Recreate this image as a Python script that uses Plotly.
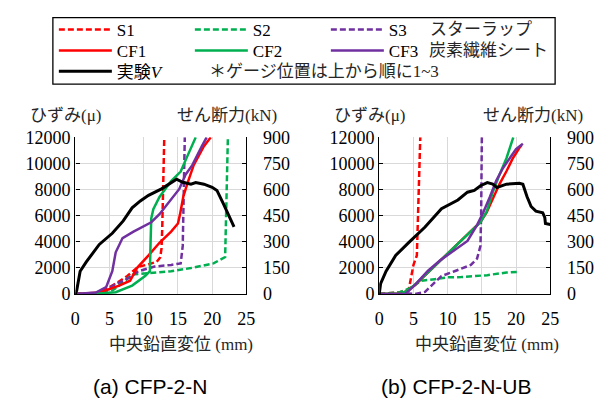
import plotly.graph_objects as go

W, H = 612, 401

# ---------------- data: (a) CFP-2-N ----------------
a_S1_x = [0, 3.0, 4.2, 5.9, 7.6, 8.5, 9.2, 10.5, 11.9, 12.4, 12.6, 12.7, 12.8, 12.9, 13.0]
a_S1_y = [0, 100, 290, 800, 1380, 1800, 2100, 2250, 2470, 2800, 3500, 5000, 7500, 10000, 12000]
a_S2_x = [0, 3.5, 5.5, 7.0, 8.3, 10.7, 14.0, 16.9, 20.2, 21.9, 22.0, 22.1, 22.2, 22.3]
a_S2_y = [0, 50, 300, 900, 1500, 1620, 1750, 1990, 2350, 2840, 5000, 8000, 10500, 12000]
a_S3_x = [0, 4.0, 5.5, 7.9, 9.2, 11.6, 14.0, 15.4, 15.7, 15.8, 15.9, 16.0]
a_S3_y = [0, 100, 650, 1260, 1750, 2110, 2230, 2350, 3690, 6110, 9500, 12000]
a_CF1_x = [0, 3.1, 4.5, 6.4, 8.0, 9.0, 10.7, 12.3, 14.0, 15.0, 15.3, 15.5, 15.8, 16.4, 17.3, 18.8, 19.8]
a_CF1_y = [0, 100, 290, 650, 1020, 1990, 2960, 3930, 4780, 5400, 6100, 6800, 7500, 8500, 9870, 11320, 12000]
a_CF2_x = [0, 3.0, 5.9, 8.3, 10.2, 10.9, 11.0, 11.1, 11.4, 12.3, 14.0, 15.4, 16.2, 17.6]
a_CF2_y = [0, 30, 145, 650, 1380, 1750, 4000, 5800, 6500, 7440, 8650, 9380, 10350, 12000]
a_CF3_x = [0, 3.0, 4.5, 5.4, 5.9, 6.9, 8.5, 9.7, 11.1, 12.3, 14.0, 15.2, 16.1, 17.1, 18.5, 19.2]
a_CF3_y = [0, 120, 530, 1750, 3200, 4290, 4780, 5140, 5500, 6110, 7200, 8050, 9140, 9870, 11320, 12000]
a_V_x = [0, 0.2, 0.7, 1.6, 3.5, 5.4, 7.0, 8.3, 9.5, 10.7, 12.6, 14.0, 14.8, 15.7, 16.9, 17.6, 18.8, 20.0, 20.7, 21.6, 22.6, 23.2]
a_V_y = [0, 22, 131, 185, 285, 349, 420, 495, 535, 567, 604, 640, 660, 642, 631, 640, 631, 613, 595, 522, 440, 386]

# ---------------- data: (b) CFP-2-N-UB ----------------
b_S1_x = [0, 3.0, 4.3, 4.6, 5.0, 5.5, 5.6, 5.7, 5.8, 5.9, 6.0]
b_S1_y = [0, 150, 290, 1200, 2230, 2960, 4500, 7000, 9000, 10800, 12000]
b_S2_x = [0, 3.0, 4.3, 6.2, 8.1, 10.0, 12.0, 14.3, 15.8, 18.6, 20.5]
b_S2_y = [0, 150, 410, 1020, 1140, 1280, 1300, 1410, 1450, 1650, 1700]
b_S3_x = [0, 4.3, 5.2, 6.7, 7.9, 9.1, 11.0, 13.4, 14.3, 14.8, 14.9, 15.0, 15.0]
b_S3_y = [0, 50, 0, 170, 780, 1380, 1750, 2230, 2710, 3690, 6110, 9500, 12000]
b_CF1_x = [0, 3.4, 5.2, 7.1, 9.0, 11.0, 12.9, 14.8, 15.7, 16.7, 17.6, 18.6, 19.5, 20.5, 20.8]
b_CF1_y = [0, 50, 680, 1650, 2620, 3590, 4560, 5530, 6250, 7470, 8440, 9400, 10370, 11200, 11400]
b_CF2_x = [0, 3.4, 5.2, 7.1, 9.0, 11.0, 12.9, 14.8, 15.7, 16.7, 17.6, 18.6, 19.6]
b_CF2_y = [0, 50, 700, 1650, 2600, 3550, 4500, 5500, 6300, 7950, 9160, 10400, 12000]
b_CF3_x = [0, 3.8, 5.2, 7.1, 9.0, 11.0, 12.9, 14.3, 15.2, 16.2, 17.1, 18.1, 19.0, 20.0, 21.0]
b_CF3_y = [0, 0, 680, 1770, 2620, 3350, 4070, 5280, 6250, 7470, 8680, 9650, 10370, 11100, 11500]
b_V_x = [0, 0.2, 1.0, 2.4, 4.3, 6.7, 9.1, 11.5, 12.9, 13.9, 14.8, 15.8, 16.6, 17.2, 18.6, 20.5, 21.0, 21.6, 22.2, 22.9, 23.9, 24.2, 24.3, 25.0]
b_V_y = [0, 60, 131, 222, 295, 385, 490, 540, 585, 595, 622, 640, 632, 612, 631, 636, 631, 560, 503, 476, 467, 440, 405, 400]

# ---------------- labels ----------------
names_S = ["S1", "S2", "S3"]
names_CF = ["CF1", "CF2", "CF3"]
name_V = "実験<i>V</i>"
colors = ["#FF0000", "#00B050", "#7030A0"]
strain_ticks = [0, 2000, 4000, 6000, 8000, 10000, 12000]
shear_ticks = [0, 150, 300, 450, 600, 750, 900]
x_ticks = [0, 5, 10, 15, 20, 25]
lbl_strain = "ひずみ(μ)"
lbl_shear = "せん断力(kN)"
lbl_x = "中央鉛直変位 (mm)"
captions = ["(a) CFP-2-N", "(b) CFP-2-N-UB"]
note_S = "スターラップ"
note_CF = "炭素繊維シート"
note_gauge = "＊ゲージ位置は上から順に1~3"

SERIF = "Liberation Serif, Noto Sans CJK JP"
DASH = "6px,3px"
LW = 2.5

fig = go.Figure()

panels = [
    dict(S=[(a_S1_x, a_S1_y), (a_S2_x, a_S2_y), (a_S3_x, a_S3_y)],
         CF=[(a_CF1_x, a_CF1_y), (a_CF2_x, a_CF2_y), (a_CF3_x, a_CF3_y)],
         V=(a_V_x, a_V_y), xa="x", ya="y", ya2="y2", show=True),
    dict(S=[(b_S1_x, b_S1_y), (b_S2_x, b_S2_y), (b_S3_x, b_S3_y)],
         CF=[(b_CF1_x, b_CF1_y), (b_CF2_x, b_CF2_y), (b_CF3_x, b_CF3_y)],
         V=(b_V_x, b_V_y), xa="x2", ya="y3", ya2="y4", show=False),
]

for p in panels:
    for i, (xs, ys) in enumerate(p["S"]):
        fig.add_trace(go.Scatter(x=xs, y=ys, mode="lines", name=names_S[i],
                                 line=dict(color=colors[i], width=LW, dash=DASH),
                                 xaxis=p["xa"], yaxis=p["ya"], legendgroup=names_S[i],
                                 showlegend=p["show"], legend="legend"))
    for i, (xs, ys) in enumerate(p["CF"]):
        fig.add_trace(go.Scatter(x=xs, y=ys, mode="lines", name=names_CF[i],
                                 line=dict(color=colors[i], width=LW),
                                 xaxis=p["xa"], yaxis=p["ya"], legendgroup=names_CF[i],
                                 showlegend=p["show"], legend="legend2"))
    fig.add_trace(go.Scatter(x=p["V"][0], y=p["V"][1], mode="lines", name=name_V,
                             line=dict(color="black", width=3),
                             xaxis=p["xa"], yaxis=p["ya2"], legendgroup="V",
                             showlegend=p["show"], legend="legend3"))


def px(x):
    return x / W


def py(y):
    return 1 - y / H


tickfont = dict(family=SERIF, size=18, color="black")
ydom = [py(299), py(134)]
xdoms = [[px(72), px(247)], [px(383), px(558)]]

common_x = dict(range=[0, 25], tickvals=x_ticks, ticktext=[str(v) for v in x_ticks],
                showgrid=True, gridcolor="#d9d9d9",
                gridwidth=1, showline=True, linecolor="black", linewidth=1.3,
                zeroline=False, ticks="", tickfont=tickfont, ticklabelstandoff=8)
common_yl = dict(range=[0, 12000], tickvals=strain_ticks, ticktext=[str(v) for v in strain_ticks],
                 showgrid=True, gridcolor="#d9d9d9",
                 gridwidth=1, showline=True, linecolor="black", linewidth=1.3, zeroline=False,
                 ticks="inside", ticklen=4, tickcolor="black", tickfont=tickfont, domain=ydom)
common_yr = dict(range=[0, 900], tickvals=shear_ticks, ticktext=[str(v) for v in shear_ticks],
                 showgrid=False, showline=True,
                 linecolor="black", linewidth=1.3, zeroline=False, side="right",
                 ticks="inside", ticklen=4, tickcolor="black", tickfont=tickfont,
                 ticklabelstandoff=12)

fig.update_layout(
    xaxis=dict(common_x, domain=xdoms[0], anchor="y"),
    yaxis=dict(common_yl, anchor="x"),
    yaxis2=dict(common_yr, overlaying="y", anchor="x"),
    xaxis2=dict(common_x, domain=xdoms[1], anchor="y3"),
    yaxis3=dict(common_yl, anchor="x2"),
    yaxis4=dict(common_yr, overlaying="y3", anchor="x2"),
)

leg_common = dict(orientation="h", xanchor="left", yanchor="middle", entrywidth=68,
                  entrywidthmode="pixels", itemwidth=53, bgcolor="rgba(0,0,0,0)",
                  font=dict(family=SERIF, size=17, color="black"),
                  tracegroupgap=0, itemclick=False, itemdoubleclick=False)
fig.update_layout(
    legend=dict(leg_common, x=px(50), y=py(21)),
    legend2=dict(leg_common, x=px(50), y=py(43)),
    legend3=dict(leg_common, x=px(50), y=py(65)),
)

# legend frame
fig.add_shape(type="rect", xref="paper", yref="paper", x0=px(49), x1=px(563),
              y0=py(78), y1=py(8), line=dict(color="black", width=1.3))

ann_font = dict(family=SERIF, size=17, color="#262626")
anns = [
    (note_S, 433, 21, "left"), (note_CF, 432, 43, "left"), (note_gauge, 207, 65, "left"),
    (lbl_strain, 62, 111, "center"), (lbl_shear, 227, 111, "center"),
    (lbl_strain, 373, 111, "center"), (lbl_shear, 540, 111, "center"),
    (lbl_x, 180, 352, "center"), (lbl_x, 493, 352, "center"),
]
for t, x, y, xa in anns:
    fig.add_annotation(text=t, x=px(x), y=py(y), xref="paper", yref="paper",
                       xanchor=xa, yanchor="middle", showarrow=False, font=ann_font)
for t, x in zip(captions, [148, 462]):
    fig.add_annotation(text=t, x=px(x), y=py(396), xref="paper", yref="paper",
                       xanchor="center", yanchor="middle", showarrow=False,
                       font=dict(family="Liberation Sans, Arial", size=21, color="black"))

fig.update_layout(width=W, height=H, margin=dict(l=0, r=0, t=0, b=0),
                  paper_bgcolor="white", plot_bgcolor="white", autosize=False)

fig.write_html("out.html")
